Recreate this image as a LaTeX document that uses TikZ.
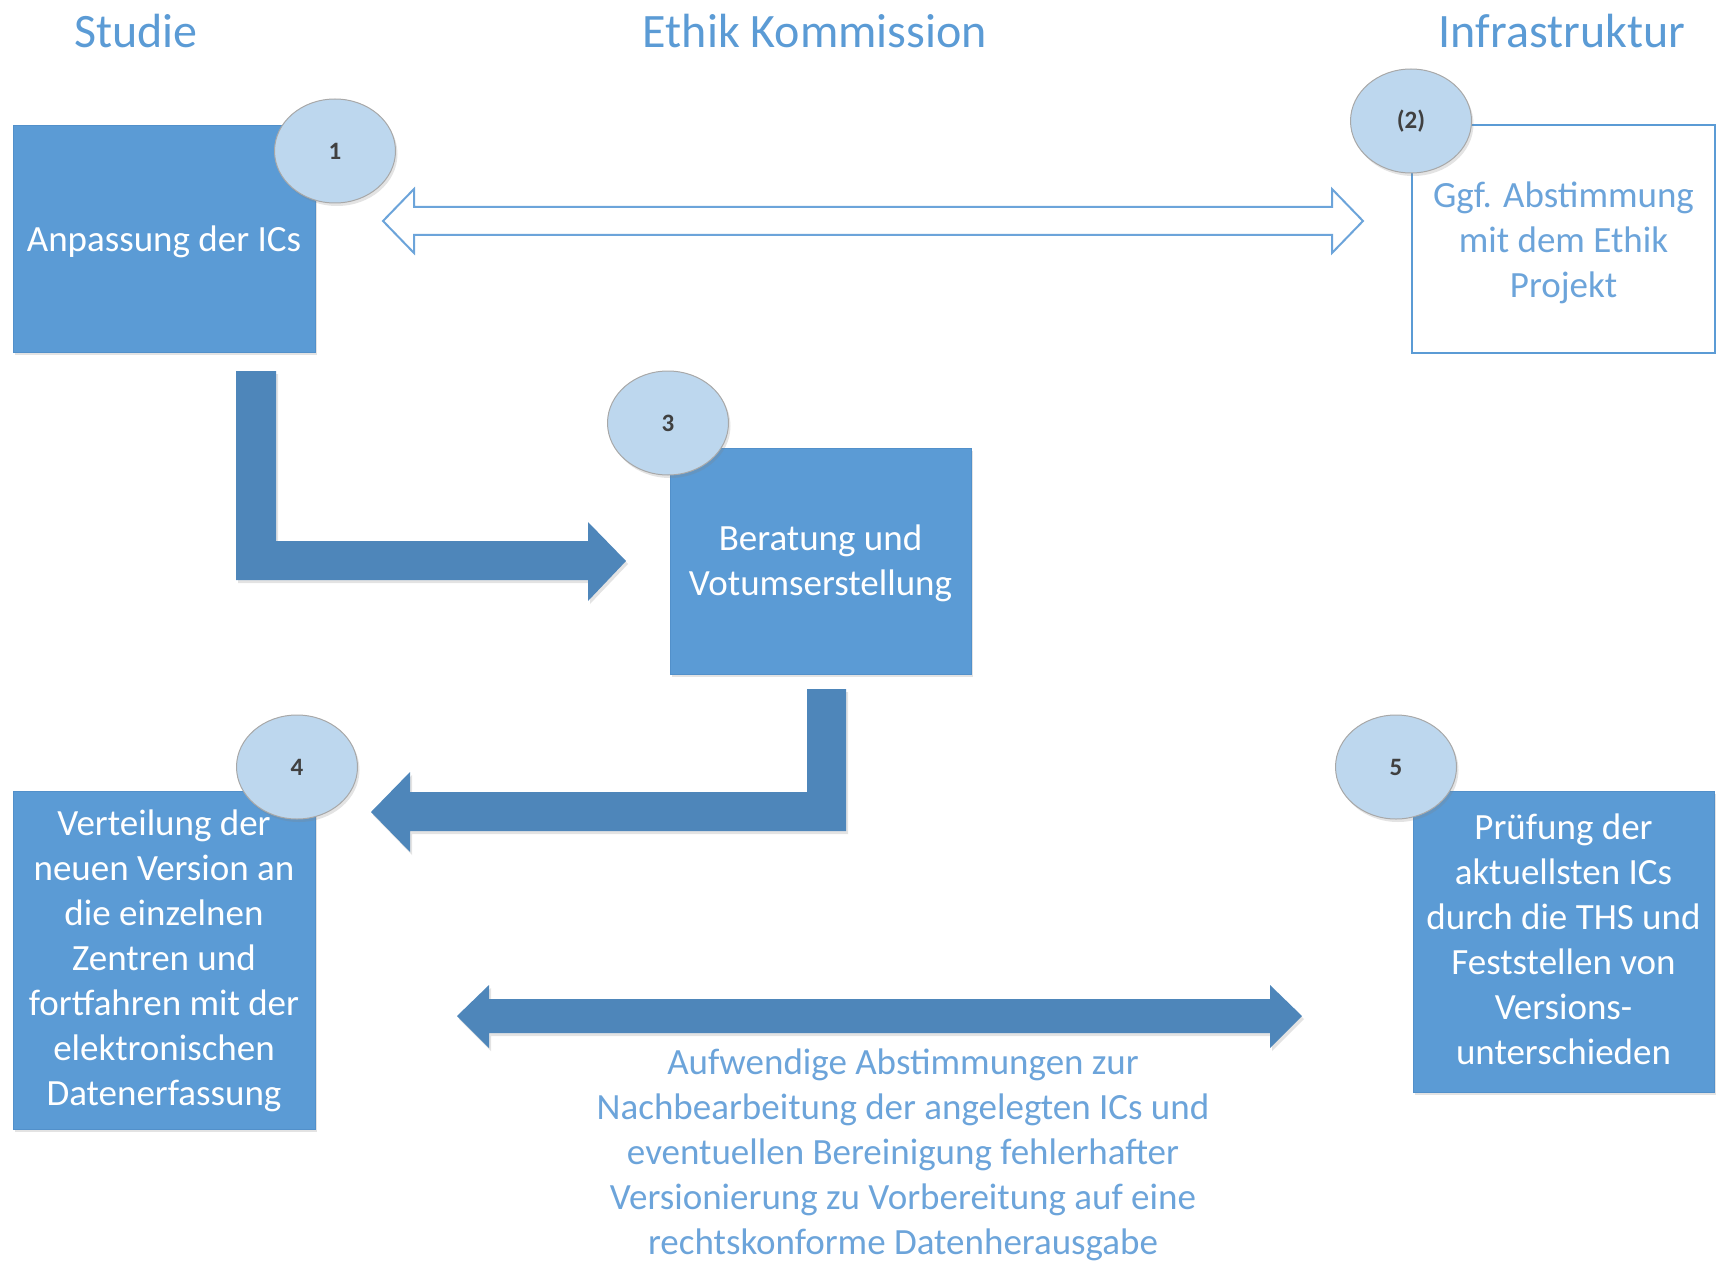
\documentclass[tikz,border=0pt]{standalone}
\usepackage{fontspec}
\setmainfont{Carlito}
\usetikzlibrary{shapes.geometric,shadows}

\definecolor{boxblue}{HTML}{5B9BD5}
\definecolor{boxedge}{HTML}{5290CA}
\definecolor{arrowblue}{HTML}{4E86BA}
\definecolor{titleblue}{HTML}{5B9BD5}
\definecolor{softblue}{HTML}{6CA4DA}
\definecolor{badgefill}{HTML}{BDD7EE}
\definecolor{badgeedge}{HTML}{A8A8A8}
\definecolor{digitgray}{HTML}{404040}

\newcommand\boxfont{\fontsize{37}{45}\selectfont}
\newcommand\headfont{\fontsize{48}{56}\selectfont}
\newcommand\digitfont{\fontsize{25}{29}\selectfont\bfseries}

\tikzset{
  softshadow/.style={drop shadow={opacity=0.22, shadow xshift=2pt, shadow yshift=-3pt}},
  stepbox/.style={rectangle, fill=boxblue, draw=boxedge, line width=1pt,
    inner sep=0pt, softshadow},
  openbox/.style={rectangle, fill=white, draw=boxblue, line width=2pt, inner sep=0pt},
  whitetext/.style={text=white, font=\boxfont, align=center, inner sep=0pt},
  bluetext/.style={text=softblue, font=\boxfont, align=center, inner sep=0pt},
  badge/.style={ellipse, fill=badgefill, draw=badgeedge, line width=1pt,
    minimum width=121pt, minimum height=104pt, inner sep=0pt,
    text=digitgray, font=\digitfont, softshadow},
  heading/.style={text=titleblue, font=\headfont, inner sep=0pt},
  blockarrow/.style={fill=arrowblue, draw=none, softshadow},
  hollowarrow/.style={fill=white, draw=softblue, line width=2pt, line join=miter},
}

\begin{document}
\begin{tikzpicture}[x=1pt,y=-1pt]
  \useasboundingbox (0,0) rectangle (1723,1265);

  % column headings
  \node[heading] (hStudie) at (136,31) {Studie};
  \node[heading] (hEthik)  at (815,31) {Ethik Kommission};
  \node[heading] (hInfra)  at (1562,31) {Infrastruktur};

  % block arrows
  \draw[hollowarrow] (383,221) -- (414,189) -- (414,207) -- (1332,207) -- (1332,189)
    -- (1363,221) -- (1332,253) -- (1332,235) -- (414,235) -- (414,253) -- cycle;

  \fill[blockarrow] (236,371) -- (276,371) -- (276,541) -- (588,541) -- (588,522)
    -- (626,561) -- (588,601) -- (588,580) -- (236,580) -- cycle;

  \fill[blockarrow] (846,689) -- (846,831) -- (410,831) -- (410,852) -- (371,812)
    -- (410,772) -- (410,792) -- (807,792) -- (807,689) -- cycle;

  \fill[blockarrow] (457,1016) -- (489,985) -- (489,999) -- (1270,999) -- (1270,985)
    -- (1302,1016) -- (1270,1048) -- (1270,1033) -- (489,1033) -- (489,1048) -- cycle;

  % process boxes with their texts
  \node[stepbox, minimum width=302pt, minimum height=226pt] (s1) at (164,239) {};
  \node[whitetext] (t1) at (164,242) {Anpassung der ICs};

  \node[openbox, minimum width=303pt, minimum height=228pt] (s2) at (1563.5,239) {};
  \node[bluetext] (t2) at (1563.5,243) {Ggf. Abstimmung\\mit dem Ethik\\Projekt};

  \node[stepbox, minimum width=301pt, minimum height=226pt] (s3) at (820.5,561) {};
  \node[whitetext] (t3) at (820.5,563) {Beratung und\\Votumserstellung};

  \node[stepbox, minimum width=302pt, minimum height=338pt] (s4) at (164,960) {};
  \node[whitetext] (t4) at (164,961)
    {Verteilung der\\neuen Version an\\die einzelnen\\Zentren und\\fortfahren mit der\\elektronischen\\Datenerfassung};

  \node[stepbox, minimum width=301pt, minimum height=301pt] (s5) at (1563.5,941.5) {};
  \node[whitetext] (t5) at (1563.5,939)
    {Prüfung der\\aktuellsten ICs\\durch die THS und\\Feststellen von\\Versions-\\unterschieden};

  % note under the double arrow
  \node[bluetext] (note) at (903,1155)
    {Aufwendige Abstimmungen zur\\Nachbearbeitung der angelegten ICs und\\eventuellen Bereinigung fehlerhafter\\Versionierung zu Vorbereitung auf eine\\rechtskonforme Datenherausgabe};

  % step numbers
  \node[badge] (b1) at (335,151) {1};
  \node[badge] (b2) at (1411,121) {(2)};
  \node[badge] (b3) at (668,423) {3};
  \node[badge] (b4) at (297,767) {4};
  \node[badge] (b5) at (1396,767) {5};
\end{tikzpicture}
\end{document}
